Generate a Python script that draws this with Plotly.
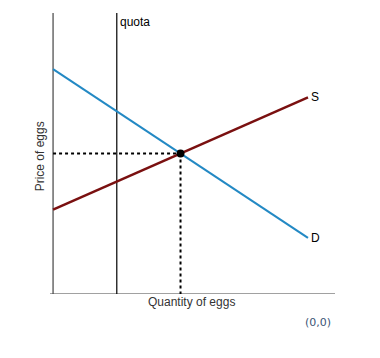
import plotly.graph_objects as go

# Data (quantity, price units)
demand_q = [0, 10]
demand_p = [8, 2]
supply_q = [0, 10]
supply_p = [3, 7]
quota_q = 2.5
eq_q = 5
eq_p = 5
y_max = 10
x_min, x_max = -0.12, 11.06

fig = go.Figure()

# axes lines
fig.add_trace(go.Scatter(x=[0, 0], y=[0, y_max], mode="lines",
                         line=dict(color="#444444", width=1.2), hoverinfo="skip", showlegend=False))
fig.add_trace(go.Scatter(x=[x_min, x_max], y=[0, 0], mode="lines",
                         line=dict(color="#444444", width=1.2), hoverinfo="skip", showlegend=False))
# quota
fig.add_trace(go.Scatter(x=[quota_q, quota_q], y=[0, y_max], mode="lines",
                         line=dict(color="#000000", width=1.2), showlegend=False))
# dotted guides
fig.add_trace(go.Scatter(x=[0, eq_q], y=[eq_p, eq_p], mode="lines",
                         line=dict(color="#000000", width=2, dash="dot"), showlegend=False))
fig.add_trace(go.Scatter(x=[eq_q, eq_q], y=[eq_p, 0], mode="lines",
                         line=dict(color="#000000", width=2, dash="dot"), showlegend=False))
# demand
fig.add_trace(go.Scatter(x=demand_q, y=demand_p, mode="lines",
                         line=dict(color="#2389c4", width=2), showlegend=False))
# supply
fig.add_trace(go.Scatter(x=supply_q, y=supply_p, mode="lines",
                         line=dict(color="#7a1010", width=2.5), showlegend=False))
# equilibrium point
fig.add_trace(go.Scatter(x=[eq_q], y=[eq_p], mode="markers",
                         marker=dict(color="#000000", size=8), showlegend=False))

font = dict(family="Liberation Sans, Arial, sans-serif", size=12, color="#000000")
annotations = [
    dict(x=quota_q, y=y_max, text="quota", xanchor="left", yanchor="top", xshift=1, yshift=0, font=font),
    dict(x=supply_q[1], y=supply_p[1], text="S", xanchor="left", yanchor="middle", xshift=1, font=font),
    dict(x=demand_q[1], y=demand_p[1], text="D", xanchor="left", yanchor="middle", xshift=1, font=font),
    dict(x=(x_min + x_max) / 2 - 0.02, y=0, text="Quantity of eggs", xanchor="center", yanchor="top", yshift=1,
         font=dict(family="Liberation Sans, Arial, sans-serif", size=12, color="#333333")),
    dict(x=0, y=y_max / 2 - 0.1, text="Price of eggs", textangle=-90, xanchor="right", yanchor="middle", xshift=-4,
         font=dict(family="Liberation Sans, Arial, sans-serif", size=12, color="#333333")),
    dict(x=10.4, y=0, text="(0,0)", xanchor="center", yanchor="top", yshift=-20,
         font=dict(family="DejaVu Sans, sans-serif", size=11, color="#3b5575")),
]
for a in annotations:
    a.update(xref="x", yref="y", showarrow=False)

fig.update_layout(
    width=380, height=358,
    margin=dict(l=50, r=45, t=13, b=64),
    paper_bgcolor="white", plot_bgcolor="white",
    xaxis=dict(range=[x_min, x_max], visible=False, fixedrange=True),
    yaxis=dict(range=[0, y_max], visible=False, fixedrange=True),
    annotations=annotations,
    showlegend=False,
)
fig.write_html("out.html")
